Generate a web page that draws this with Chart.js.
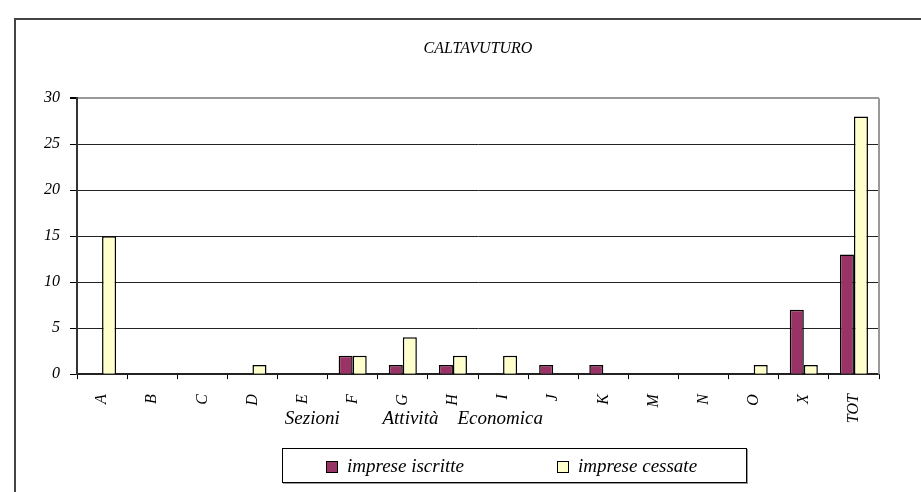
<!DOCTYPE html>
<html>
<head>
<meta charset="utf-8">
<script src="https://cdn.jsdelivr.net/npm/chart.js@4"></script>
<style>
  body { margin: 0; background: #fff; overflow: hidden; }
  #wrap { position: relative; width: 921px; height: 492px; overflow: hidden; }
  #frame { position: absolute; left: 14px; top: 18px; width: 1000px; height: 1000px; border: 2px solid #444; }
  #legend { position: absolute; left: 282px; top: 448px; width: 463px; height: 33px; border: 1px solid #000;
            box-shadow: 1px 1px 0 #999; font: italic 19px "Liberation Serif", serif; }
  .item { position: absolute; top: 6px; white-space: nowrap; }
  .sw { display: inline-block; width: 10px; height: 10px; border: 1.5px solid #000; margin-right: 9px; vertical-align: -1px; }
</style>
</head>
<body>
<div id="wrap">
  <div id="frame"></div>
  <canvas id="chart"></canvas>
  <div id="legend"></div>
</div>
<script>
const categories = ['A', 'B', 'C', 'D', 'E', 'F', 'G', 'H', 'I', 'J', 'K', 'M', 'N', 'O', 'X', 'TOT'];
const iscritte = [0, 0, 0, 0, 0, 2, 1, 1, 0, 1, 1, 0, 0, 0, 7, 13];
const cessate = [15, 0, 0, 1, 0, 2, 4, 2, 2, 0, 0, 0, 0, 1, 1, 28];
const seriesNames = ['imprese iscritte', 'imprese cessate'];
const seriesColors = ['#993366', '#FFFFCC'];

const serif = '"Liberation Serif", "Times New Roman", serif';

// gray line on the right edge of the plot area
const plotBorder = {
    id: 'plotBorder',
    beforeDatasetsDraw(chart) {
        const a = chart.chartArea, c = chart.ctx;
        c.save();
        c.strokeStyle = '#999';
        c.lineWidth = 2;
        c.beginPath();
        c.moveTo(a.right, a.top);
        c.lineTo(a.right, a.bottom);
        c.stroke();
        c.restore();
    }
};

const ctx = document.getElementById('chart').getContext('2d');
new Chart(ctx, {
    type: 'bar',
    data: {
        labels: categories,
        datasets: [
            {
                label: seriesNames[0],
                data: iscritte,
                backgroundColor: seriesColors[0],
                borderColor: '#000',
                borderWidth: 1.5,
            },
            {
                label: seriesNames[1],
                data: cessate,
                backgroundColor: seriesColors[1],
                borderColor: '#000',
                borderWidth: 1.5,
            }
        ]
    },
    options: {
        responsive: true,
        maintainAspectRatio: false,
        animation: false,
        categoryPercentage: 0.56,
        barPercentage: 1,
        layout: { padding: { left: 34, right: 42, top: 0, bottom: 52 } },
        plugins: {
            legend: { display: false },
            tooltip: { enabled: false },
            title: {
                display: true,
                text: 'CALTAVUTURO',
                fullSize: false,
                color: '#000',
                font: { family: serif, size: 16, style: 'italic', weight: 'normal', lineHeight: 1.2 },
                padding: { top: 39, bottom: 40 }
            }
        },
        scales: {
            x: {
                grid: { display: true, drawOnChartArea: false, drawTicks: true, tickLength: 5, color: '#000', offset: true },
                border: { display: true, color: '#222', width: 2 },
                ticks: {
                    autoSkip: false, minRotation: 90, maxRotation: 90, padding: 15, color: '#000',
                    font: { family: serif, size: 16, style: 'italic' }
                },
                title: {
                    display: true,
                    text: 'Sezioni         Attività    Economica                           ',
                    color: '#000',
                    font: { family: serif, size: 19, style: 'italic', lineHeight: 1.2 },
                    padding: { top: -31, bottom: 10 }
                }
            },
            y: {
                min: 0,
                max: 30,
                ticks: { stepSize: 5, padding: 10, color: '#000', font: { family: serif, size: 16, style: 'italic' } },
                grid: {
                    color: (c) => (c.tick && c.tick.value === 30 ? '#999' : '#222'),
                    lineWidth: (c) => (c.tick && c.tick.value === 30 ? 2 : 1),
                    tickColor: '#000',
                    tickLength: 7
                },
                border: { display: true, color: '#333', width: 2 }
            }
        }
    },
    plugins: [plotBorder]
});

// legend box
const legend = document.getElementById('legend');
const itemLeft = [43, 274];
seriesNames.forEach((name, i) => {
    const d = document.createElement('div');
    d.className = 'item';
    d.style.left = itemLeft[i] + 'px';
    d.innerHTML = '<span class="sw" style="background:' + seriesColors[i] + '"></span>' + name;
    legend.appendChild(d);
});
</script>
</body>
</html>
